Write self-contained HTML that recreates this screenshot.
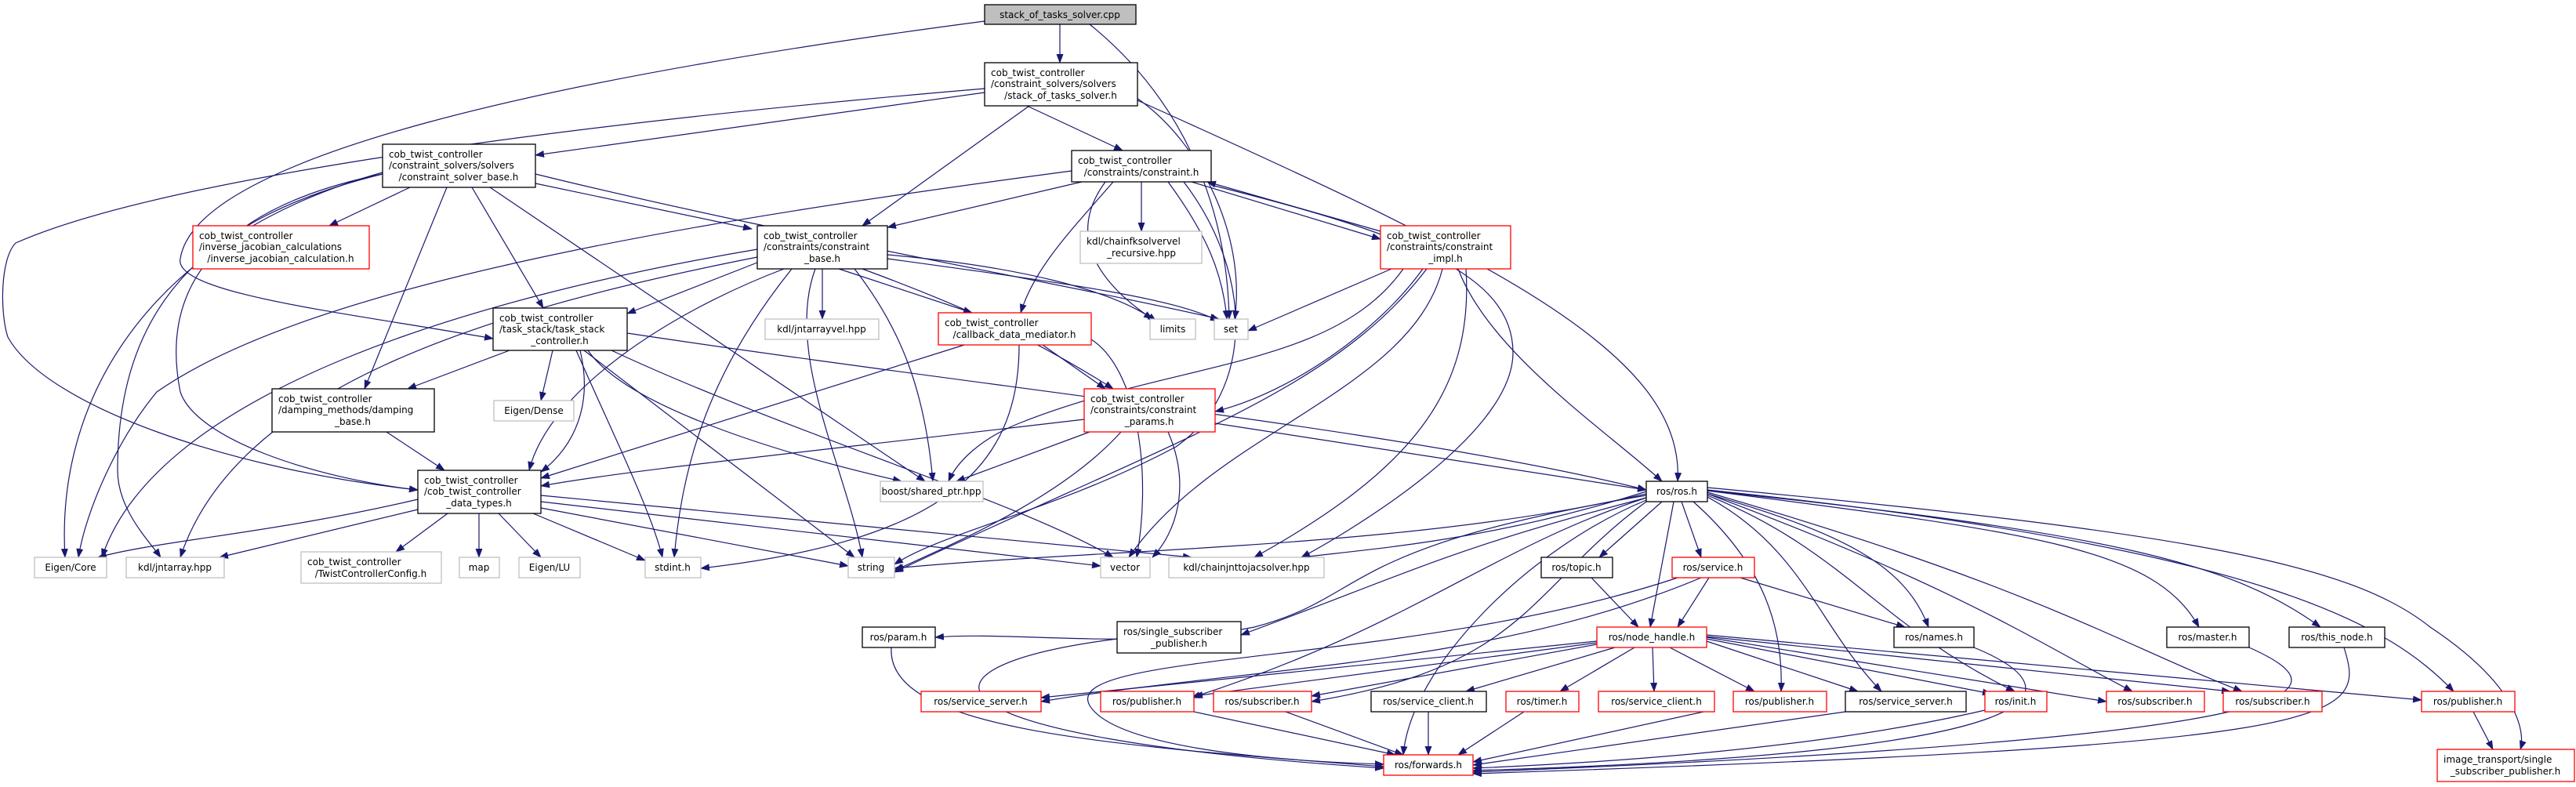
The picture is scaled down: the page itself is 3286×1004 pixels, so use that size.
<!DOCTYPE html>
<html><head><meta charset="utf-8"><style>
html,body{margin:0;padding:0;background:#fff;width:3286px;height:1004px;overflow:hidden}
svg{display:block}
text{font-family:"DejaVu Sans","Liberation Sans",sans-serif;font-size:12px;fill:#000}
.e{fill:none;stroke:#191970;stroke-width:1.2}
.k{fill:#fff;stroke:#000;stroke-width:1.3}
.r{fill:#fff;stroke:#ff0000;stroke-width:1.3}
.g{fill:#fff;stroke:#bfbfbf;stroke-width:1.3}
</style></head><body>
<svg width="3286" height="1004" viewBox="0 0 3286 1004" xmlns="http://www.w3.org/2000/svg">
<defs><marker id="a" markerWidth="12" markerHeight="9" refX="11" refY="4.5" orient="auto" markerUnits="userSpaceOnUse"><polygon points="0,0 12,4.5 0,9" fill="#191970"/></marker></defs>
<g class="e" marker-end="url(#a)">
<path d="M1352 31 L1352 80"/>
<path d="M1390 31 C1500 120 1565 250 1568 407"/>
<path d="M1256 27 C700 100 250 200 230 330 C220 375 450 400 629 432"/>
<path d="M1256 118 L683 198"/>
<path d="M1256 113 C700 160 200 230 20 310 C0 330 0 400 10 430 C60 520 300 600 533 625"/>
<path d="M1310 135 L1432 192"/>
<path d="M1313 135 L1100 288"/>
<path d="M1450 125 C1530 180 1590 300 1575 407"/>
<path d="M1451 128 C1900 330 2150 450 2140 614"/>
<path d="M523 239 L420 288"/>
<path d="M570 239 L465 496"/>
<path d="M602 239 L693 393"/>
<path d="M683 234 L959 292"/>
<path d="M683 222 C1000 300 1350 360 1555 407"/>
<path d="M488 222 C300 260 200 350 230 500 C250 560 400 610 533 625"/>
<path d="M488 220 C200 300 70 500 83 711"/>
<path d="M488 222 C250 280 150 400 150 600 C150 650 190 690 205 711"/>
<path d="M625 239 L1180 614"/>
<path d="M1380 232 L1132 290"/>
<path d="M1456 232 L1456 295"/>
<path d="M1520 232 L1761 305"/>
<path d="M1761 295 L1540 232"/>
<path d="M1420 232 C1370 290 1320 340 1302 399"/>
<path d="M1410 232 C1360 300 1400 360 1470 407"/>
<path d="M1490 232 C1540 300 1560 350 1565 407"/>
<path d="M1510 232 C1600 350 1600 500 1500 570 C1350 650 1200 680 1141 720"/>
<path d="M1545 236 C1800 300 1930 350 1930 450 C1930 560 1700 690 1660 711"/>
<path d="M1367 218 C900 280 400 360 200 500 C150 560 110 650 100 711"/>
<path d="M1775 343 L1592 422"/>
<path d="M1860 343 C1900 450 2050 550 2120 614"/>
<path d="M1815 343 C1760 420 1650 500 1550 525"/>
<path d="M1790 343 C1700 470 1500 460 1300 540 C1250 560 1220 590 1210 614"/>
<path d="M1820 343 C1700 500 1500 560 1141 730"/>
<path d="M1840 343 C1800 500 1550 550 1440 711"/>
<path d="M1870 343 C1880 500 1800 600 1600 711"/>
<path d="M966 335 L800 400"/>
<path d="M1049 343 L1049 407"/>
<path d="M1070 343 L1240 399"/>
<path d="M1100 343 C1200 380 1300 420 1420 496"/>
<path d="M1090 343 C1150 420 1180 500 1190 614"/>
<path d="M1040 343 C1000 450 1080 600 1100 711"/>
<path d="M1010 343 C900 480 870 600 860 711"/>
<path d="M1000 343 C850 400 700 500 675 600"/>
<path d="M1132 330 C1350 360 1500 380 1555 410"/>
<path d="M1132 325 C1300 340 1420 370 1475 410"/>
<path d="M966 318 C600 380 200 500 130 711"/>
<path d="M966 328 C600 400 300 500 230 711"/>
<path d="M650 447 L520 496"/>
<path d="M705 447 L690 511"/>
<path d="M740 447 C760 530 720 580 690 602"/>
<path d="M750 447 C800 520 1000 580 1150 614"/>
<path d="M735 447 C780 550 830 650 845 711"/>
<path d="M745 447 L1090 711"/>
<path d="M780 447 C1000 550 1300 640 1420 711"/>
<path d="M800 425 C1300 500 1800 550 2100 625"/>
<path d="M1230 440 L690 610"/>
<path d="M1330 440 L1410 496"/>
<path d="M1300 440 C1300 600 1200 690 894 725"/>
<path d="M1392 433 C1450 470 1470 600 1450 711"/>
<path d="M1383 535 C1000 580 800 600 690 620"/>
<path d="M1390 551 L1220 614"/>
<path d="M1430 551 C1350 640 1200 700 1141 728"/>
<path d="M1490 551 C1520 620 1500 680 1470 711"/>
<path d="M1550 540 L2100 625"/>
<path d="M493 551 L567 600"/>
<path d="M533 637 C350 680 200 690 125 711"/>
<path d="M533 650 L280 711"/>
<path d="M571 655 L505 704"/>
<path d="M611 655 L611 711"/>
<path d="M636 655 L690 711"/>
<path d="M680 655 L823 715"/>
<path d="M690 648 L1082 722"/>
<path d="M690 640 L1404 722"/>
<path d="M690 632 L1520 711"/>
<path d="M2100 630 C1800 700 1400 700 1141 725"/>
<path d="M2100 627 C1900 690 1750 700 1660 711"/>
<path d="M2100 632 C1700 700 1750 760 1600 800 C1450 830 1300 805 1193 813"/>
<path d="M2100 635 C1850 700 1800 730 1583 810"/>
<path d="M2120 640 L2040 711"/>
<path d="M2145 640 L2170 711"/>
<path d="M2135 640 L2105 800"/>
<path d="M2178 630 C2350 680 2430 720 2460 800"/>
<path d="M2178 626 C2600 680 2750 700 2805 800"/>
<path d="M2178 626 C2700 680 2850 720 2960 800"/>
<path d="M2178 625 C2900 700 3050 800 3130 882"/>
<path d="M2178 622 C2800 680 3000 720 3100 800 C3220 880 3220 940 3215 956"/>
<path d="M2178 628 C2600 750 2700 820 2860 882"/>
<path d="M2178 630 C2500 750 2600 820 2720 882"/>
<path d="M2178 632 C2350 700 2400 800 2570 882"/>
<path d="M2178 634 C2300 700 2320 800 2400 882"/>
<path d="M2160 640 C2250 720 2275 800 2272 882"/>
<path d="M2100 635 C1900 700 1800 800 1520 890"/>
<path d="M2100 640 C1950 750 1950 850 1673 895"/>
<path d="M2100 638 C1950 700 1800 850 1790 963"/>
<path d="M2030 737 L2090 800"/>
<path d="M2180 737 L2140 800"/>
<path d="M2220 737 L2430 800"/>
<path d="M2170 737 C1900 850 1600 850 1328 895"/>
<path d="M2140 737 C1800 850 1350 830 1390 900 C1420 950 1600 970 1765 975"/>
<path d="M2037 818 L1328 890"/>
<path d="M2037 820 L1523 888"/>
<path d="M2037 822 L1673 888"/>
<path d="M2060 826 L1870 882"/>
<path d="M2085 826 L1990 882"/>
<path d="M2108 826 L2110 882"/>
<path d="M2130 826 L2238 882"/>
<path d="M2177 818 L2370 882"/>
<path d="M2177 815 L2540 885"/>
<path d="M2177 813 L2687 895"/>
<path d="M2177 812 L2845 882"/>
<path d="M2177 810 L3089 893"/>
<path d="M1137 826 C1130 930 1400 950 1765 978"/>
<path d="M1425 815 C1150 850 1150 940 1765 980"/>
<path d="M1523 908 L1780 963"/>
<path d="M1640 908 L1790 963"/>
<path d="M1822 908 L1822 963"/>
<path d="M1944 908 L1860 963"/>
<path d="M2187 905 L1879 972"/>
<path d="M2354 908 L1879 976"/>
<path d="M2532 906 C2300 960 2000 975 1879 980"/>
<path d="M2518 826 C2650 880 2650 960 1879 983"/>
<path d="M2869 826 C2990 880 3000 940 1879 985"/>
<path d="M2990 826 C3020 920 3000 950 1879 987"/>
<path d="M3155 908 L3180 956"/>
</g>
<!-- nodes -->
<rect x="1256" y="6" width="193" height="25" fill="#bfbfbf" stroke="#000" stroke-width="1.3"/>
<text x="1352" y="23" text-anchor="middle">stack_of_tasks_solver.cpp</text>

<rect class="k" x="1256" y="80" width="195" height="55"/>
<text x="1264" y="97">cob_twist_controller</text><text x="1264" y="111">/constraint_solvers/solvers</text><text x="1353" y="126" text-anchor="middle">/stack_of_tasks_solver.h</text>

<rect class="k" x="488" y="184" width="195" height="55"/>
<text x="496" y="201">cob_twist_controller</text><text x="496" y="215">/constraint_solvers/solvers</text><text x="585" y="230" text-anchor="middle">/constraint_solver_base.h</text>

<rect class="k" x="1367" y="192" width="178" height="40"/>
<text x="1375" y="209">cob_twist_controller</text><text x="1456" y="224" text-anchor="middle">/constraints/constraint.h</text>

<rect class="r" x="246" y="288" width="225" height="55"/>
<text x="254" y="305">cob_twist_controller</text><text x="254" y="319">/inverse_jacobian_calculations</text><text x="358" y="334" text-anchor="middle">/inverse_jacobian_calculation.h</text>

<rect class="k" x="966" y="288" width="166" height="55"/>
<text x="974" y="305">cob_twist_controller</text><text x="974" y="319">/constraints/constraint</text><text x="1049" y="334" text-anchor="middle">_base.h</text>

<rect class="g" x="1378" y="295" width="155" height="41"/>
<text x="1386" y="312">kdl/chainfksolvervel</text><text x="1456" y="327" text-anchor="middle">_recursive.hpp</text>

<rect class="r" x="1761" y="288" width="166" height="55"/>
<text x="1769" y="305">cob_twist_controller</text><text x="1769" y="319">/constraints/constraint</text><text x="1844" y="334" text-anchor="middle">_impl.h</text>

<rect class="k" x="629" y="393" width="171" height="54"/>
<text x="637" y="410">cob_twist_controller</text><text x="637" y="424">/task_stack/task_stack</text><text x="714" y="439" text-anchor="middle">_controller.h</text>

<rect class="g" x="976" y="407" width="145" height="26"/>
<text x="1048" y="424" text-anchor="middle">kdl/jntarrayvel.hpp</text>

<rect class="r" x="1197" y="399" width="195" height="41"/>
<text x="1205" y="416">cob_twist_controller</text><text x="1294" y="431" text-anchor="middle">/callback_data_mediator.h</text>

<rect class="g" x="1467" y="407" width="58" height="26"/><text x="1496" y="424" text-anchor="middle">limits</text>
<rect class="g" x="1549" y="407" width="43" height="26"/><text x="1570" y="424" text-anchor="middle">set</text>

<rect class="k" x="347" y="496" width="207" height="55"/>
<text x="355" y="513">cob_twist_controller</text><text x="355" y="527">/damping_methods/damping</text><text x="450" y="542" text-anchor="middle">_base.h</text>

<rect class="g" x="630" y="511" width="102" height="26"/><text x="681" y="528" text-anchor="middle">Eigen/Dense</text>

<rect class="r" x="1383" y="496" width="167" height="55"/>
<text x="1391" y="513">cob_twist_controller</text><text x="1391" y="527">/constraints/constraint</text><text x="1466" y="542" text-anchor="middle">_params.h</text>

<rect class="k" x="533" y="600" width="157" height="55"/>
<text x="541" y="617">cob_twist_controller</text><text x="541" y="631">/cob_twist_controller</text><text x="611" y="646" text-anchor="middle">_data_types.h</text>

<rect class="g" x="1123" y="614" width="131" height="26"/><text x="1188" y="631" text-anchor="middle">boost/shared_ptr.hpp</text>
<rect class="k" x="2100" y="614" width="78" height="26"/><text x="2139" y="631" text-anchor="middle">ros/ros.h</text>

<rect class="g" x="44" y="711" width="92" height="26"/><text x="90" y="728" text-anchor="middle">Eigen/Core</text>
<rect class="g" x="161" y="711" width="125" height="26"/><text x="223" y="728" text-anchor="middle">kdl/jntarray.hpp</text>
<rect class="g" x="384" y="704" width="179" height="40"/>
<text x="392" y="721">cob_twist_controller</text><text x="473" y="736" text-anchor="middle">/TwistControllerConfig.h</text>
<rect class="g" x="586" y="711" width="51" height="26"/><text x="611" y="728" text-anchor="middle">map</text>
<rect class="g" x="662" y="711" width="78" height="26"/><text x="701" y="728" text-anchor="middle">Eigen/LU</text>
<rect class="g" x="823" y="711" width="71" height="26"/><text x="858" y="728" text-anchor="middle">stdint.h</text>
<rect class="g" x="1082" y="711" width="59" height="26"/><text x="1111" y="728" text-anchor="middle">string</text>
<rect class="g" x="1404" y="711" width="63" height="26"/><text x="1435" y="728" text-anchor="middle">vector</text>
<rect class="g" x="1491" y="711" width="198" height="26"/><text x="1590" y="728" text-anchor="middle">kdl/chainjnttojacsolver.hpp</text>
<rect class="k" x="1966" y="711" width="91" height="26"/><text x="2011" y="728" text-anchor="middle">ros/topic.h</text>
<rect class="r" x="2133" y="711" width="105" height="26"/><text x="2185" y="728" text-anchor="middle">ros/service.h</text>

<rect class="k" x="1100" y="800" width="93" height="26"/><text x="1146" y="817" text-anchor="middle">ros/param.h</text>
<rect class="k" x="1425" y="793" width="158" height="40"/>
<text x="1433" y="810">ros/single_subscriber</text><text x="1504" y="825" text-anchor="middle">_publisher.h</text>
<rect class="r" x="2037" y="800" width="140" height="26"/><text x="2107" y="817" text-anchor="middle">ros/node_handle.h</text>
<rect class="k" x="2416" y="800" width="102" height="26"/><text x="2467" y="817" text-anchor="middle">ros/names.h</text>
<rect class="k" x="2764" y="800" width="105" height="26"/><text x="2816" y="817" text-anchor="middle">ros/master.h</text>
<rect class="k" x="2920" y="800" width="122" height="26"/><text x="2981" y="817" text-anchor="middle">ros/this_node.h</text>

<rect class="r" x="1175" y="882" width="153" height="26"/><text x="1251" y="899" text-anchor="middle">ros/service_server.h</text>
<rect class="r" x="1404" y="882" width="119" height="26"/><text x="1463" y="899" text-anchor="middle">ros/publisher.h</text>
<rect class="r" x="1548" y="882" width="125" height="26"/><text x="1610" y="899" text-anchor="middle">ros/subscriber.h</text>
<rect class="k" x="1749" y="882" width="147" height="26"/><text x="1822" y="899" text-anchor="middle">ros/service_client.h</text>
<rect class="r" x="1921" y="882" width="93" height="26"/><text x="1967" y="899" text-anchor="middle">ros/timer.h</text>
<rect class="r" x="2039" y="882" width="148" height="26"/><text x="2113" y="899" text-anchor="middle">ros/service_client.h</text>
<rect class="r" x="2211" y="882" width="119" height="26"/><text x="2270" y="899" text-anchor="middle">ros/publisher.h</text>
<rect class="k" x="2354" y="882" width="154" height="26"/><text x="2431" y="899" text-anchor="middle">ros/service_server.h</text>
<rect class="r" x="2532" y="882" width="79" height="26"/><text x="2571" y="899" text-anchor="middle">ros/init.h</text>
<rect class="r" x="2687" y="882" width="125" height="26"/><text x="2749" y="899" text-anchor="middle">ros/subscriber.h</text>
<rect class="r" x="2836" y="882" width="126" height="26"/><text x="2899" y="899" text-anchor="middle">ros/subscriber.h</text>
<rect class="r" x="3089" y="882" width="119" height="26"/><text x="3148" y="899" text-anchor="middle">ros/publisher.h</text>

<rect class="r" x="1765" y="963" width="114" height="26"/><text x="1822" y="980" text-anchor="middle">ros/forwards.h</text>
<rect class="r" x="3109" y="956" width="175" height="41"/>
<text x="3117" y="973">image_transport/single</text><text x="3196" y="988" text-anchor="middle">_subscriber_publisher.h</text>
</svg>
</body></html>
